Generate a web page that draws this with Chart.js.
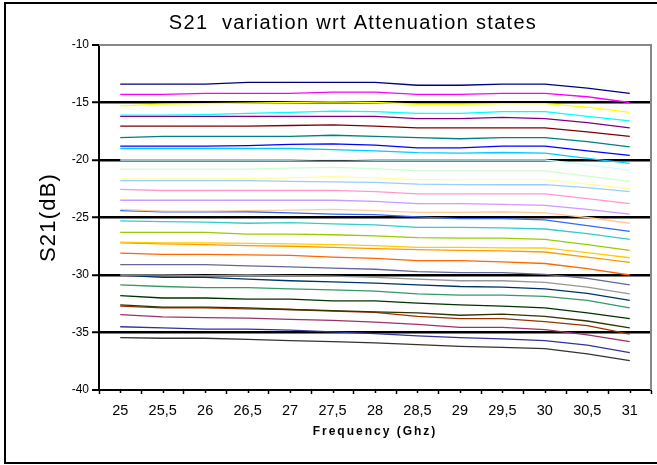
<!DOCTYPE html>
<html lang="en">
<head>
  <meta charset="UTF-8" />
  <title>S21 variation wrt Attenuation states</title>
  <script src="https://cdn.jsdelivr.net/npm/chart.js@4.4.0/dist/chart.umd.min.js"></script>
  <style>
    * { box-sizing: border-box; }
    html, body { margin: 0; padding: 0; background: #fff; }
    .chart-box { position: relative; width: 657px; height: 465px; }
  </style>
</head>
<body>
  <div class="chart-box">
    <canvas id="s21Chart"></canvas>
  </div>

  <script>
    /* ---------- DATA ---------- */
    var frequencies = ["25", "25,5", "26", "26,5", "27", "27,5", "28", "28,5", "29", "29,5", "30", "30,5", "31"];
    var yTicks = [-10, -15, -20, -25, -30, -35, -40];

    var state01 = [-13.4, -13.4, -13.4, -13.25, -13.25, -13.25, -13.25, -13.5, -13.5, -13.4, -13.4, -13.75, -14.2];
    var state02 = [-14.3, -14.3, -14.2, -14.2, -14.2, -14.1, -14.1, -14.3, -14.3, -14.2, -14.2, -14.5, -15.0];
    var state03 = [-15.3, -15.15, -15.1, -15.05, -15.0, -14.95, -15.0, -15.15, -15.15, -15.1, -15.1, -15.4, -15.85];
    var state04 = [-16.1, -16.1, -16.05, -15.95, -15.85, -15.75, -15.8, -15.95, -15.95, -15.8, -15.8, -16.2, -16.6];
    var state05 = [-16.2, -16.2, -16.2, -16.2, -16.2, -16.2, -16.2, -16.4, -16.4, -16.3, -16.4, -16.75, -17.2];
    var state06 = [-17.05, -17.05, -17.05, -17.05, -17.0, -16.95, -17.05, -17.2, -17.2, -17.2, -17.2, -17.55, -17.95];
    var state07 = [-18.05, -17.95, -17.95, -17.95, -17.95, -17.85, -17.95, -18.05, -18.15, -18.05, -18.05, -18.4, -18.85];
    var state08 = [-18.8, -18.8, -18.8, -18.75, -18.65, -18.6, -18.7, -18.95, -18.95, -18.8, -18.8, -19.2, -19.6];
    var state09 = [-19.0, -19.0, -19.0, -19.0, -19.0, -19.1, -19.2, -19.35, -19.4, -19.35, -19.4, -19.85, -20.3];
    var state10 = [-20.0, -20.0, -20.0, -20.0, -20.0, -19.95, -20.0, -20.0, -20.0, -20.0, -20.0, -20.4, -20.9];
    var state11 = [-20.8, -20.8, -20.8, -20.8, -20.7, -20.65, -20.75, -20.95, -20.95, -20.95, -20.95, -21.4, -21.85];
    var state12 = [-21.65, -21.65, -21.65, -21.6, -21.55, -21.45, -21.55, -21.7, -21.7, -21.7, -21.7, -22.1, -22.5];
    var state13 = [-21.8, -21.8, -21.8, -21.8, -21.85, -21.9, -21.95, -22.1, -22.15, -22.15, -22.15, -22.4, -22.75];
    var state14 = [-22.55, -22.65, -22.65, -22.65, -22.65, -22.65, -22.75, -22.95, -22.95, -22.95, -22.95, -23.35, -23.8];
    var state15 = [-23.5, -23.5, -23.5, -23.5, -23.5, -23.5, -23.6, -23.8, -23.8, -23.85, -23.95, -24.3, -24.7];
    var state16 = [-24.3, -24.45, -24.45, -24.4, -24.35, -24.3, -24.4, -24.55, -24.55, -24.5, -24.6, -25.0, -25.5];
    var state17 = [-24.4, -24.5, -24.5, -24.5, -24.6, -24.7, -24.75, -24.95, -25.1, -25.1, -25.2, -25.7, -26.2];
    var state18 = [-25.3, -25.35, -25.4, -25.5, -25.45, -25.55, -25.65, -25.85, -25.85, -25.9, -26.0, -26.4, -26.9];
    var state19 = [-26.3, -26.3, -26.3, -26.45, -26.45, -26.5, -26.6, -26.75, -26.8, -26.8, -26.9, -27.35, -27.85];
    var state20 = [-27.15, -27.2, -27.2, -27.25, -27.3, -27.35, -27.45, -27.6, -27.6, -27.65, -27.65, -28.05, -28.5];
    var state21 = [-27.2, -27.3, -27.35, -27.45, -27.5, -27.6, -27.7, -27.8, -27.85, -27.9, -28.0, -28.45, -28.9];
    var state22 = [-28.1, -28.2, -28.2, -28.25, -28.3, -28.45, -28.55, -28.75, -28.75, -28.85, -29.0, -29.45, -30.0];
    var state23 = [-29.1, -29.1, -29.1, -29.2, -29.3, -29.4, -29.5, -29.7, -29.8, -29.8, -29.95, -30.3, -30.85];
    var state24 = [-30.0, -30.0, -30.05, -30.0, -30.05, -30.1, -30.2, -30.35, -30.5, -30.5, -30.65, -31.05, -31.65];
    var state25 = [-30.0, -30.2, -30.2, -30.35, -30.5, -30.6, -30.7, -30.85, -31.0, -31.05, -31.2, -31.6, -32.2];
    var state26 = [-30.85, -31.0, -31.1, -31.1, -31.2, -31.3, -31.4, -31.65, -31.75, -31.75, -31.85, -32.2, -32.85];
    var state27 = [-31.8, -32.0, -32.0, -32.1, -32.1, -32.25, -32.25, -32.45, -32.6, -32.7, -32.85, -33.3, -33.8];
    var state28 = [-32.6, -32.8, -32.8, -32.85, -33.0, -33.1, -33.2, -33.3, -33.5, -33.4, -33.6, -34.0, -34.6];
    var state29 = [-32.7, -32.85, -32.85, -32.95, -33.0, -33.15, -33.25, -33.6, -33.8, -33.8, -34.05, -34.4, -35.15];
    var state30 = [-33.45, -33.65, -33.7, -33.75, -33.85, -33.95, -34.1, -34.3, -34.55, -34.55, -34.75, -35.2, -35.8];
    var state31 = [-34.5, -34.6, -34.7, -34.7, -34.8, -34.95, -35.1, -35.3, -35.45, -35.55, -35.7, -36.1, -36.75];
    var state32 = [-35.45, -35.5, -35.5, -35.6, -35.7, -35.8, -35.9, -36.05, -36.2, -36.3, -36.4, -36.85, -37.45];

    var allStates = [state01, state02, state03, state04, state05, state06, state07, state08,
                     state09, state10, state11, state12, state13, state14, state15, state16,
                     state17, state18, state19, state20, state21, state22, state23, state24,
                     state25, state26, state27, state28, state29, state30, state31, state32];

    /* Excel default series colours, same order */
    var stateColors = ["#000080", "#FF00FF", "#FFFF00", "#00FFFF", "#800080", "#800000", "#008080", "#0000FF",
                       "#00CCFF", "#CCFFFF", "#CCFFCC", "#FFFF99", "#99CCFF", "#FF99CC", "#CC99FF", "#FFCC99",
                       "#3366FF", "#33CCCC", "#99CC00", "#FFCC00", "#FF9900", "#FF6600", "#666699", "#969696",
                       "#003366", "#339966", "#003300", "#333300", "#993300", "#993366", "#333399", "#333333"];

    var tickFont = "'Liberation Sans Narrow', 'Arial Narrow', 'Liberation Sans', Arial, sans-serif";
    var textFont = "'Liberation Sans', Arial, sans-serif";

    /* ---------- DECORATION: frame, grey plot border, titles, minor ticks ---------- */
    var decorPlugin = {
      id: "decor",
      beforeDraw: function (chart) {
        var c = chart.ctx;
        c.save();
        c.fillStyle = "#fff";
        c.fillRect(0, 0, chart.width, chart.height);
        c.restore();
      },
      afterDraw: function (chart) {
        var c = chart.ctx, a = chart.chartArea, xs = chart.scales.x;
        c.save();
        /* grey top and right border of the plot */
        c.strokeStyle = "#888";
        c.lineWidth = 2;
        c.beginPath();
        c.moveTo(a.left, a.top);
        c.lineTo(a.right, a.top);
        c.lineTo(a.right, a.bottom);
        c.stroke();

        /* small ticks at category centres */
        c.strokeStyle = "#000";
        c.lineWidth = 1.5;
        for (var i = 0; i < frequencies.length; i++) {
          var px = Math.round(xs.getPixelForValue(i)) + 0.5;
          c.beginPath();
          c.moveTo(px, a.bottom);
          c.lineTo(px, a.bottom + 3);
          c.stroke();
        }

        /* outer frame */
        c.strokeStyle = "#000";
        c.lineWidth = 2;
        c.strokeRect(5, 3, chart.width + 10, chart.height - 5);

        /* chart title */
        c.fillStyle = "#000";
        c.textAlign = "center";
        c.textBaseline = "middle";
        c.font = "20px " + textFont;
        c.letterSpacing = "1.3px";
        c.fillText("S21  variation wrt Attenuation states", 353, 23);

        /* x axis title */
        c.font = "bold 12px " + textFont;
        c.letterSpacing = "2px";
        c.fillText("Frequency (Ghz)", 375, 432);

        /* y axis title */
        c.translate(49, (a.top + a.bottom) / 2);
        c.rotate(-Math.PI / 2);
        c.font = "22px " + textFont;
        c.letterSpacing = "1.2px";
        c.fillText("S21(dB)", 0, 0);
        c.restore();
      }
    };

    function gridWidth(ctx) {
      var v = ctx.tick ? ctx.tick.value : null;
      return (v === -10 || v === -40) ? 0 : 2.5;
    }

    var datasets = allStates.map(function (vals, i) {
      return {
        label: "State " + (i + 1),
        data: vals,
        borderColor: stateColors[i],
        backgroundColor: stateColors[i],
        borderWidth: 1.3,
        pointRadius: 0,
        tension: 0,
        fill: false
      };
    });

    new Chart(document.getElementById("s21Chart"), {
      type: "line",
      data: { labels: frequencies, datasets: datasets },
      plugins: [decorPlugin],
      options: {
        responsive: true,
        maintainAspectRatio: false,
        animation: false,
        layout: { padding: { top: 45, right: 6, bottom: 0, left: 0 } },
        plugins: {
          legend: { display: false },
          title: { display: false },
          tooltip: { enabled: false }
        },
        scales: {
          x: {
            type: "category",
            offset: true,
            afterFit: function (s) { s.height = 75; },
            grid: {
              offset: true,
              drawOnChartArea: false,
              drawTicks: true,
              tickLength: 4,
              tickWidth: 1.5,
              tickColor: "#000"
            },
            border: { display: true, color: "#000", width: 2 },
            ticks: {
              autoSkip: false,
              maxRotation: 0,
              padding: 8,
              color: "#000",
              font: { family: tickFont, size: 14.5 }
            }
          },
          y: {
            min: -40,
            max: -10,
            afterFit: function (s) { s.width = 99; },
            afterBuildTicks: function (s) {
              s.ticks = yTicks.map(function (v) { return { value: v }; });
            },
            grid: {
              color: "#000",
              lineWidth: gridWidth,
              drawTicks: true,
              tickLength: 7,
              tickWidth: 2,
              tickColor: "#000"
            },
            border: { display: true, color: "#000", width: 2 },
            ticks: {
              padding: 3,
              color: "#000",
              font: { family: tickFont, size: 12 },
              callback: function (v) { return String(v); }
            }
          }
        }
      }
    });
  </script>
</body>
</html>
